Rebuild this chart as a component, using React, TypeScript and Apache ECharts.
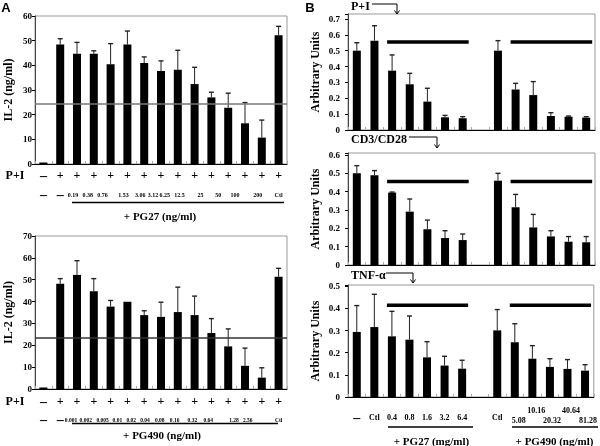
import React, { useEffect, useRef } from "react";
import * as echarts from "echarts";

const SERIF = '"Liberation Serif","Times New Roman",serif';
const SANS = '"Liberation Sans",Arial,sans-serif';

// ---------- Panel A data ----------
const aPIRow = ["–", "+", "+", "+", "+", "+", "+", "+", "+", "+", "+", "+", "+", "+", "+"];
const pg27Conc = ["–", "–", "0.19", "0.38", "0.76", "1.53", "3.06", "3.12", "6.25", "12.5", "25", "50", "100", "200", "Ctl"];
const il2PG27 = [0, 48.4, 44.7, 44.7, 40.4, 48.4, 40.9, 37.7, 38.2, 32.4, 27.0, 22.8, 16.5, 10.7, 52.2];
const sdPG27 = [0, 2.4, 4.6, 1.2, 8.4, 5.5, 2.5, 4.1, 7.9, 6.8, 2.1, 5.9, 8.4, 7.1, 3.6];
const cutoffPG27 = 24.4;

const pg490Conc = ["–", "–", "0.001", "0.002", "0.005", "0.01", "0.02", "0.04", "0.08", "0.16", "0.32", "0.64", "1.28", "2.56", "Ctl"];
const il2PG490 = [0, 48.1, 52.2, 44.7, 37.7, 39.9, 33.8, 33.0, 35.2, 33.8, 25.6, 19.5, 10.6, 5.2, 51.3];
const sdPG490 = [0, 2.4, 6.5, 5.8, 2.8, 0, 2.0, 6.7, 11.4, 8.7, 6.6, 8.0, 8.1, 4.5, 3.9];
const cutoffPG490 = 23.3;

// ---------- Panel B data ----------
const bCats = ["–", "Ctl", "0.4", "0.8", "1.6", "3.2", "6.4", "", "Ctl", "5.08", "10.16", "20.32", "40.64", "81.28"];
const piVals = [0.5, 0.563, 0.374, 0.288, 0.179, 0.08, 0.074, null, 0.5, 0.256, 0.22, 0.088, 0.084, 0.078];
const piSD = [0.05, 0.094, 0.099, 0.069, 0.084, 0.012, 0.01, null, 0.063, 0.038, 0.085, 0.021, 0.004, 0.006];
const cd3Vals = [0.5, 0.489, 0.395, 0.291, 0.195, 0.147, 0.136, null, 0.46, 0.315, 0.205, 0.156, 0.127, 0.124];
const cd3SD = [0.042, 0.026, 0.003, 0.069, 0.05, 0.04, 0.033, null, 0.04, 0.07, 0.071, 0.031, 0.028, 0.031];
const tnfVals = [0.294, 0.316, 0.274, 0.259, 0.179, 0.142, 0.128, null, 0.301, 0.247, 0.173, 0.136, 0.127, 0.119];
const tnfSD = [0.119, 0.148, 0.113, 0.107, 0.071, 0.042, 0.038, null, 0.094, 0.084, 0.059, 0.037, 0.042, 0.027];
const sigRanges = [[2, 6], [9, 13]];
const sigLevels = [0.555, 0.455, 0.414];

// ---------- label layout (px shifts of the concentration labels, left = positive) ----------
const pg27LabelShift = [0, 0, 4, 6, 8, 4, 4, 8, 13, 15, 11, 10, 10, 4, 0];
const pg490LabelShift = [0, 0, 6, 8, 8, 10, 13, 16, 18, 20, 19, 20, 11, 14, 0];

const txt = (text: string, x: number, y: number, size: number, align = "center", family = SERIF) => ({
  type: "text",
  silent: true,
  style: {
    text, x, y,
    fontSize: size, fontWeight: "bold", fontFamily: family, fill: "#000",
    align, verticalAlign: "middle", textAlign: align, textVerticalAlign: "middle",
  },
});
const hline = (x1: number, x2: number, y: number, w = 1.5) => ({
  type: "line", silent: true,
  shape: { x1, y1: y, x2, y2: y },
  style: { stroke: "#000", lineWidth: w },
});
const arrow = (x1: number, x2: number, y: number, y2: number) => ({
  type: "group", silent: true,
  children: [
    { type: "polyline", shape: { points: [[x1, y], [x2, y], [x2, y2]] }, style: { stroke: "#000", lineWidth: 1, fill: null } },
    { type: "polyline", shape: { points: [[x2 - 2.5, y2 - 3.5], [x2, y2], [x2 + 2.5, y2 - 3.5]] }, style: { stroke: "#000", lineWidth: 1, fill: null } },
  ],
});

function errSeries(vals: (number | null)[], sds: (number | null)[], gi: number) {
  const data = vals
    .map((v, i) => [i, v, sds[i]])
    .filter((d) => d[1] != null && (d[2] as number) > 0);
  return {
    type: "custom",
    xAxisIndex: gi,
    yAxisIndex: gi,
    silent: true,
    z: 3,
    encode: { x: 0, y: 1 },
    data,
    renderItem: (_p: any, api: any) => {
      const idx = api.value(0);
      const v = api.value(1);
      const sd = api.value(2);
      const p0 = api.coord([idx, v]);
      const p1 = api.coord([idx, v + sd]);
      return {
        type: "group",
        children: [
          { type: "line", shape: { x1: p0[0], y1: p0[1], x2: p1[0], y2: p1[1] }, style: { stroke: "#222", lineWidth: 1 } },
          { type: "line", shape: { x1: p1[0] - 2.5, y1: p1[1], x2: p1[0] + 2.5, y2: p1[1] }, style: { stroke: "#222", lineWidth: 1.4 } },
        ],
      };
    },
  };
}

function sigSeries(level: number, gi: number) {
  return {
    type: "custom",
    xAxisIndex: gi,
    yAxisIndex: gi,
    silent: true,
    z: 4,
    encode: { x: [0, 1], y: 2 },
    data: sigRanges.map((r) => [r[0], r[1], level]),
    renderItem: (_p: any, api: any) => {
      const a = api.coord([api.value(0), api.value(2)]);
      const b = api.coord([api.value(1), api.value(2)]);
      return { type: "line", shape: { x1: a[0] - 5, y1: a[1], x2: b[0] + 6, y2: b[1] }, style: { stroke: "#000", lineWidth: 3.5 } };
    },
  };
}

const yLabelB = (v: number) => {
  const r = Math.round(v * 10);
  if (Math.abs(v * 10 - r) > 1e-6) return "";
  return r === 0 ? "0" : (r / 10).toFixed(1);
};

const baseX = (gi: number, cats: string[], label: any) => ({
  type: "category",
  gridIndex: gi,
  data: cats,
  axisLine: { lineStyle: { color: "#000", width: 1 } },
  axisTick: { show: true, inside: true, length: 3, interval: 0, lineStyle: { color: "#aaa" } },
  axisLabel: label,
  splitLine: { show: false },
});

const baseY = (gi: number, max: number, interval: number, name: string, gap: number, margin: number, fmt?: any) => ({
  type: "value",
  gridIndex: gi,
  min: 0,
  max,
  interval,
  name,
  nameLocation: "middle",
  nameGap: gap,
  nameRotate: 90,
  nameTextStyle: { fontFamily: SERIF, fontWeight: "bold", fontSize: 12, color: "#000" },
  axisLine: { show: true, lineStyle: { color: "#444", width: 1 } },
  axisTick: { show: true, length: 3, lineStyle: { color: "#000" } },
  axisLabel: { fontFamily: SERIF, fontWeight: "bold", fontSize: 9, color: "#000", margin, formatter: fmt },
  splitLine: { show: false },
});

const aLabel = (shifts: number[], lh1: number, lh2: number, cSize: number) => {
  const rich: any = {
    p: { fontFamily: SERIF, fontWeight: "bold", fontSize: 12, lineHeight: lh1, color: "#000" },
    pd: { fontFamily: SERIF, fontWeight: "bold", fontSize: 14, lineHeight: lh1, color: "#000" },
    cd: { fontFamily: SERIF, fontWeight: "bold", fontSize: 14, lineHeight: lh2, color: "#000" },
  };
  shifts.forEach((s, i) => {
    rich["c" + i] = {
      fontFamily: SERIF, fontWeight: "bold", fontSize: cSize, lineHeight: lh2, color: "#000",
      padding: [0, 2 * s, 0, 0],
    };
  });
  return {
    interval: 0,
    margin: 2,
    color: "#000",
    formatter: (val: string, idx: number) => {
      const p = aPIRow[idx] === "–" ? "{pd|–}" : "{p|+}";
      const c = val === "–" ? "{cd|–}" : `{c${idx}|${val}}`;
      return p + "\n" + c;
    },
    rich,
  };
};

const bl = (lh: number, padLeft: number) => ({
  fontFamily: SERIF, fontWeight: "bold", fontSize: 8, lineHeight: lh, color: "#000", padding: [0, 0, 0, padLeft],
});
const bBottomLabel = {
  interval: 0,
  margin: 4,
  color: "#000",
  formatter: (val: string, idx: number) => {
    if (val === "") return "";
    if (idx === 0) return "{d|–}";
    if (idx >= 9) return `{b${idx}|${val}}`;
    return `{n|${val}}`;
  },
  rich: {
    n: bl(33, 0),
    d: { fontFamily: SERIF, fontWeight: "bold", fontSize: 14, lineHeight: 33, color: "#000" },
    b9: bl(39, 8),
    b10: bl(19, 8),
    b11: bl(39, 4),
    b12: bl(19, 7),
    b13: bl(39, 6),
  },
};

const gridStyle = { show: true, borderColor: "#999", borderWidth: 1, backgroundColor: "transparent" };

const bar = (data: (number | null)[], gi: number, markLine?: any) => ({
  type: "bar",
  xAxisIndex: gi,
  yAxisIndex: gi,
  data,
  barWidth: 8,
  barMinHeight: 1.5,
  itemStyle: { color: "#000" },
  silent: true,
  markLine,
});

const refLine = (v: number, color: string) => ({
  silent: true,
  symbol: "none",
  label: { show: false },
  lineStyle: { color, width: 1.5, type: "solid" },
  data: [{ yAxis: v }],
});

export default function App() {
  const ref = useRef<HTMLDivElement>(null);
  useEffect(() => {
    if (!ref.current) return;
    const chart = echarts.init(ref.current, null, { renderer: "svg", width: 600, height: 446 });
    const option: any = {
      animation: false,
      backgroundColor: "#fff",
      grid: [
        { left: 35, top: 16, width: 252, height: 148, ...gridStyle },
        { left: 35, top: 236, width: 252, height: 153, ...gridStyle },
        { left: 348, top: 14, width: 247, height: 116, ...gridStyle },
        { left: 348, top: 153, width: 247, height: 112, ...gridStyle },
        { left: 348, top: 285, width: 247, height: 112, ...gridStyle },
      ],
      xAxis: [
        baseX(0, pg27Conc, aLabel(pg27LabelShift, 18, 21, 6)),
        baseX(1, pg490Conc, aLabel(pg490LabelShift, 20, 17, 5.5)),
        baseX(2, bCats, { show: false }),
        baseX(3, bCats, { show: false }),
        baseX(4, bCats, bBottomLabel),
      ],
      yAxis: [
        baseY(0, 60, 10, "IL-2 (ng/ml)", 21, 3),
        baseY(1, 70, 10, "IL-2 (ng/ml)", 21, 3),
        baseY(2, 0.731, 0.1, "Arbitrary Units", 27, 8, yLabelB),
        baseY(3, 0.611, 0.1, "Arbitrary Units", 27, 8, yLabelB),
        baseY(4, 0.506, 0.1, "Arbitrary Units", 27, 8, yLabelB),
      ],
      series: [
        bar(il2PG27, 0, refLine(cutoffPG27, "#777")),
        errSeries(il2PG27, sdPG27, 0),
        bar(il2PG490, 1, refLine(cutoffPG490, "#333")),
        errSeries(il2PG490, sdPG490, 1),
        bar(piVals, 2),
        errSeries(piVals, piSD, 2),
        sigSeries(sigLevels[0], 2),
        bar(cd3Vals, 3),
        errSeries(cd3Vals, cd3SD, 3),
        sigSeries(sigLevels[1], 3),
        bar(tnfVals, 4),
        errSeries(tnfVals, tnfSD, 4),
        sigSeries(sigLevels[2], 4),
      ],
      graphic: [
        txt("A", 6, 7, 13, "center", SANS),
        txt("B", 310, 7, 13, "center", SANS),
        txt("P+I", 15, 175, 12),
        txt("P+I", 15, 401, 12),
        hline(72, 284, 202.5),
        txt("+ PG27 (ng/ml)", 160, 215.5, 11),
        hline(72, 278, 423.5),
        txt("+ PG490 (ng/ml)", 162, 435, 11),
        txt("P+I", 351, 6, 12, "left"),
        arrow(372, 397, 4, 14),
        txt("CD3/CD28", 351, 139, 12, "left"),
        arrow(409, 437, 137, 148),
        txt("TNF-α", 351, 275, 12, "left"),
        arrow(386, 413, 273, 283),
        hline(388, 473, 427),
        txt("+ PG27 (mg/ml)", 431.5, 440.5, 11),
        hline(512, 598, 427),
        txt("+ PG490 (ng/ml)", 554.5, 440.5, 11),
      ],
    };
    chart.setOption(option);
    return () => chart.dispose();
  }, []);
  return (
    <div
      ref={ref}
      style={{ position: "fixed", left: 0, top: 0, width: 600, height: 446, filter: "grayscale(1)" }}
    />
  );
}
